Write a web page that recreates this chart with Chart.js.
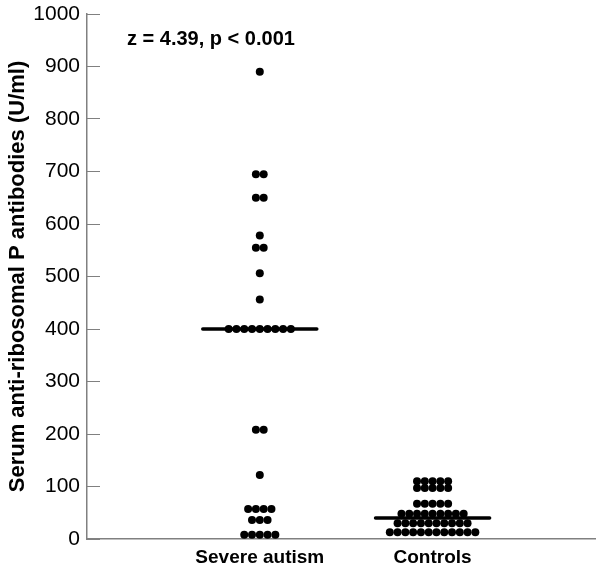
<!doctype html>
<html>
<head>
	<meta charset="utf-8">
	<title>Serum anti-ribosomal P antibodies</title>
	<style>
		body { margin: 0; background: #fff; }
		#holder { width: 600px; height: 571px; }
	</style>
</head>
<body>
	<div id="holder">
		<canvas id="chart-area"></canvas>
	</div>
	<script src="https://cdn.jsdelivr.net/npm/chart.js@4/dist/chart.umd.min.js"></script>
	<script>
	var categories = ['Severe autism', 'Controls'];
	// each value, one entry per dot (U/ml)
	var severeValues = [
		890,
		695, 695,
		650, 650,
		578,
		555, 555,
		506,
		456,
		400, 400, 400, 400, 400, 400, 400, 400, 400,
		208, 208,
		122,
		57, 57, 57, 57,
		36, 36, 36,
		8, 8, 8, 8, 8
	];
	var controlValues = [
		110, 110, 110, 110, 110,
		97, 97, 97, 97, 97,
		67, 67, 67, 67, 67,
		48, 48, 48, 48, 48, 48, 48, 48, 48,
		30, 30, 30, 30, 30, 30, 30, 30, 30, 30,
		13, 13, 13, 13, 13, 13, 13, 13, 13, 13, 13, 13
	];
	var medians = [400, 40];
	var yTicks = [0, 100, 200, 300, 400, 500, 600, 700, 800, 900, 1000];
	var statText = 'z = 4.39, p < 0.001';

	var dotStep = 0.045;   // horizontal gap between dots on the same row
	var medianHalf = 0.33;

	// lay identical values side by side, centred on the category position
	function dotPoints(values, pos) {
		var rows = {};
		values.forEach(function(v) { rows[v] = (rows[v] || 0) + 1; });
		var pts = [];
		Object.keys(rows).forEach(function(k) {
			var n = rows[k];
			for (var i = 0; i < n; i++) {
				pts.push({ x: pos + (i - (n - 1) / 2) * dotStep, y: Number(k) });
			}
		});
		return pts;
	}

	var statLabel = {
		id: 'statLabel',
		afterDraw: function(chart) {
			var ctx = chart.ctx;
			ctx.save();
			ctx.font = 'bold 20px "Liberation Sans", Arial, sans-serif';
			ctx.fillStyle = '#000';
			ctx.textBaseline = 'middle';
			ctx.textAlign = 'left';
			ctx.fillText(statText, 127, 39);
			ctx.restore();
		}
	};

	var datasets = [];
	[severeValues, controlValues].forEach(function(vals, i) {
		datasets.push({
			type: 'scatter',
			data: dotPoints(vals, i + 1),
			pointRadius: 4,
			pointBorderWidth: 0,
			backgroundColor: '#000',
			borderColor: '#000',
			order: 2
		});
		datasets.push({
			type: 'line',
			data: [{ x: i + 1 - medianHalf, y: medians[i] }, { x: i + 1 + medianHalf, y: medians[i] }],
			borderColor: '#000',
			borderWidth: 3.5,
			pointRadius: 0,
			borderCapStyle: 'round',
			order: 1
		});
	});

	var config = {
		type: 'scatter',
		data: { datasets: datasets },
		plugins: [statLabel],
		options: {
			responsive: true,
			maintainAspectRatio: false,
			animation: false,
			layout: { padding: { top: 14, right: 5, left: 0, bottom: 0 } },
			plugins: { legend: { display: false }, tooltip: { enabled: false } },
			scales: {
				x: {
					type: 'linear',
					min: 0,
					max: 2.94,
					afterBuildTicks: function(scale) {
						scale.ticks = [{ value: 1 }, { value: 2 }];
					},
					afterFit: function(scale) {
						scale.height = 32;
						scale.paddingLeft = 0;
						scale.paddingRight = 0;
					},
					grid: { display: false, drawTicks: false },
					border: { color: '#808080', width: 1.5 },
					ticks: {
						padding: 7,
						color: '#000',
						font: { family: '"Liberation Sans", Arial, sans-serif', size: 19, weight: 'bold' },
						callback: function(v) { return categories[v - 1]; }
					}
				},
				y: {
					min: 0,
					max: 1000,
					afterBuildTicks: function(scale) {
						scale.ticks = yTicks.map(function(v) { return { value: v }; });
					},
					afterFit: function(scale) {
						scale.width = 87;
						scale.paddingTop = 0;
						scale.paddingBottom = 0;
					},
					grid: { drawOnChartArea: false, drawTicks: true, tickLength: -13, color: '#808080' },
					border: { color: '#808080', width: 1.5 },
					ticks: {
						padding: 20,
						color: '#000',
						font: { family: '"Liberation Sans", Arial, sans-serif', size: 21 },
						callback: function(v) { return String(v); }
					},
					title: {
						display: true,
						text: 'Serum anti-ribosomal P antibodies (U/ml)',
						color: '#000',
						padding: { top: 5, bottom: 0 },
						font: { family: '"Liberation Sans", Arial, sans-serif', size: 22, weight: 'bold' }
					}
				}
			}
		}
	};

	window.onload = function() {
		var ctx = document.getElementById('chart-area').getContext('2d');
		window.myChart = new Chart(ctx, config);
	};
	</script>
</body>
</html>
